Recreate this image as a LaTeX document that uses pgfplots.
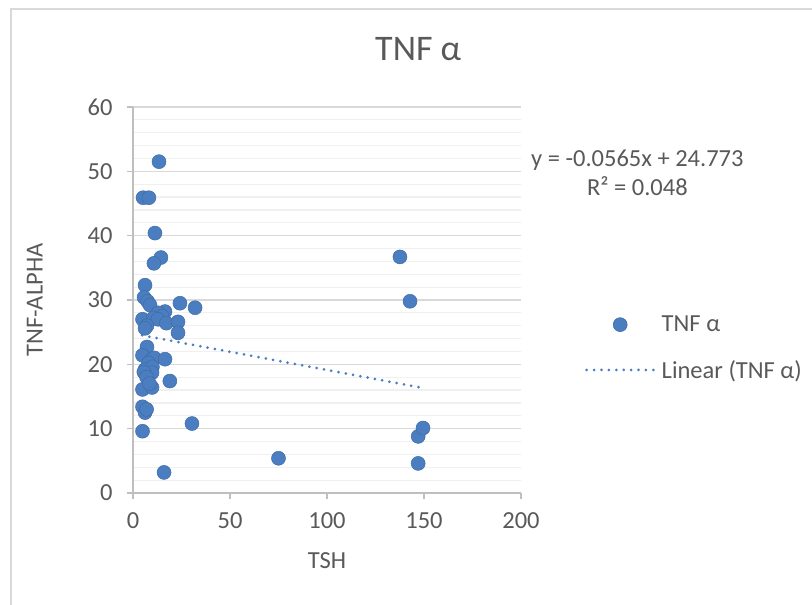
\documentclass[border=0pt]{standalone}
\usepackage{fontspec}
\setmainfont{Carlito}
\usepackage{pgfplots}
\pgfplotsset{compat=1.18}
\definecolor{ptblue}{RGB}{74,126,193}
\definecolor{txtgray}{RGB}{89,89,89}
\definecolor{majgrid}{RGB}{217,217,217}
\definecolor{mingrid}{RGB}{240,240,240}
\definecolor{axgray}{RGB}{191,191,191}
\pgfplotsset{
  scatleg/.style={legend image code/.code={\path[draw=none,fill=none] (0pt,0pt) rectangle (73pt,0.1pt);\draw[##1] plot coordinates {(33.5pt,0pt)};}},
  lineleg/.style={legend image code/.code={\path[draw=none,fill=none] (0pt,0pt) rectangle (73pt,0.1pt);\draw[##1] (0pt,0pt) -- (67pt,0pt);}},
}
\begin{document}
\begin{tikzpicture}[x=1pt,y=1pt]
\path[use as bounding box] (0,0) rectangle (812,605);
\draw[majgrid, line width=1.2pt] (11,0) -- (11,596) -- (812,596);
\begin{axis}[
  at={(133pt,112pt)}, anchor=south west,
  scale only axis, width=388pt, height=386pt,
  xmin=0, xmax=200, ymin=0, ymax=60,
  xtick={0,50,...,200}, ytick={0,10,...,60},
  minor ytick={2,4,...,58},
  ymajorgrids, yminorgrids,
  major grid style={majgrid, line width=1.2pt},
  minor grid style={mingrid, line width=1.2pt},
  axis x line*=bottom, axis y line*=left,
  axis line style={axgray, line width=1.2pt, -},
  tick style={axgray, line width=1.2pt},
  major tick length=6pt, minor tick length=0pt,
  tick align=outside,
  /pgf/number format/assume math mode=true,
  ticklabel style={font=\fontsize{24.5}{24.5}\selectfont, text=txtgray},
  yticklabel style={xshift=-11pt},
  xticklabel style={yshift=-10pt},
  title={TNF α},
  title style={at={(0.735,1.135)}, anchor=center, font=\fontsize{36}{36}\selectfont, text=txtgray},
  xlabel={TSH},
  xlabel style={at={(0.5,-0.174)}, anchor=center, font=\fontsize{24.5}{24.5}\selectfont, text=txtgray},
  ylabel={TNF-ALPHA},
  ylabel style={at={(-0.253,0.5)}, anchor=center, rotate=0, font=\fontsize{24.5}{24.5}\selectfont, text=txtgray},
  clip=false,
  legend style={at={(1.165,0.376)}, anchor=west, draw=none, fill=none,
    font=\fontsize{24.5}{24.5}\selectfont, text=txtgray, row sep=23pt, inner sep=0pt,
    cells={anchor=west}},
  legend cell align=left,
]
\addplot[only marks, mark=*, mark size=7pt, color=ptblue,
  mark options={fill=ptblue, draw=ptblue!85!black, line width=0.5pt}, scatleg]
coordinates {
(13.4,51.5) (5.2,45.9) (8.2,45.9) (11.3,40.4) (14.4,36.6) (10.8,35.7)
(6.2,32.3) (5.7,30.4) (7.5,29.8) (8.8,29.2) (24.2,29.5) (32.0,28.8)
(16.5,28.2) (13.0,28.0) (15.0,27.5) (4.9,27.0) (10.5,27.2) (12.9,27.0)
(17.2,26.4) (23.2,26.6) (7.2,26.0) (6.2,25.6) (23.2,24.9)
(7.2,22.7) (4.9,21.4) (9.8,20.8) (11.0,21.0) (16.5,20.8) (8.0,20.2)
(6.2,19.2) (10.0,19.6) (9.8,18.7) (5.6,18.8) (7.0,18.0) (19.0,17.4)
(4.9,16.1) (9.8,16.4) (8.5,17.0) (4.9,13.4) (6.2,12.5) (7.0,13.0)
(4.9,9.6) (30.4,10.8) (16.0,3.2) (75.0,5.4) (147.0,4.6) (147.0,8.8)
(149.5,10.1) (137.6,36.7) (142.8,29.8)
};
\addlegendentry{TNF α}
\addplot[ptblue, line width=3pt, line cap=round, dash pattern=on 0pt off 7.4pt, lineleg]
coordinates {(4.7,24.507) (149.5,16.326)};
\addlegendentry{Linear (TNF α)}
\node[font=\fontsize{24.5}{29}\selectfont, text=txtgray, align=center]
  at (rel axis cs:1.3,0.83) {y = -0.0565x + 24.773\\R² = 0.048};
\end{axis}
\end{tikzpicture}
\end{document}
